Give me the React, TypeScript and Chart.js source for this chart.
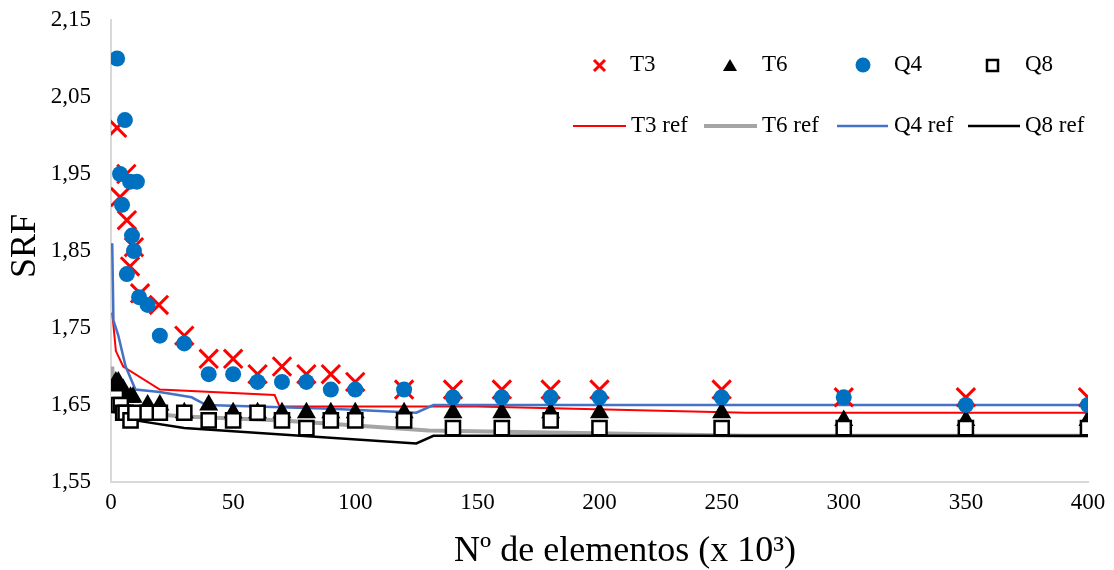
import React, { useEffect, useRef } from 'react';
import { Chart, registerables } from 'chart.js';

Chart.register(...registerables);

// ---- Data (x in thousands of elements, y = SRF) ----
const t3X = [2.5, 3.7, 6.3, 6.5, 7.8, 9.4, 11.9, 19.6, 30, 40, 50, 60, 70, 80, 90, 100, 120, 140, 160, 180, 200, 250, 300, 350, 400];
const t3Y = [2.01, 1.92, 1.95, 1.89, 1.83, 1.855, 1.795, 1.78, 1.74, 1.71, 1.71, 1.69, 1.70, 1.69, 1.69, 1.68, 1.67, 1.67, 1.67, 1.67, 1.67, 1.67, 1.66, 1.66, 1.66];

const t6X = [1, 2, 3, 4, 5, 6, 8, 9, 15, 20, 30, 40, 50, 60, 70, 80, 90, 100, 120, 140, 160, 180, 200, 250, 300, 350, 400];
const t6Y = [1.67, 1.68, 1.68, 1.67, 1.67, 1.66, 1.66, 1.66, 1.65, 1.65, 1.64, 1.65, 1.64, 1.64, 1.64, 1.64, 1.64, 1.64, 1.64, 1.64, 1.64, 1.64, 1.64, 1.64, 1.63, 1.63, 1.63];

const q4X = [2.5, 3.7, 4.5, 5.7, 6.5, 7.8, 8.6, 9.4, 10.6, 11.5, 15, 20, 30, 40, 50, 60, 70, 80, 90, 100, 120, 140, 160, 180, 200, 250, 300, 350, 400];
const q4Y = [2.10, 1.95, 1.91, 2.02, 1.82, 1.94, 1.87, 1.85, 1.94, 1.79, 1.78, 1.74, 1.73, 1.69, 1.69, 1.68, 1.68, 1.68, 1.67, 1.67, 1.67, 1.66, 1.66, 1.66, 1.66, 1.66, 1.66, 1.65, 1.65];

const q8X = [1, 2, 3, 4, 5, 6, 8, 10, 15, 20, 30, 40, 50, 60, 70, 80, 90, 100, 120, 140, 160, 180, 200, 250, 300, 350, 400];
const q8Y = [1.66, 1.66, 1.65, 1.65, 1.64, 1.64, 1.63, 1.64, 1.64, 1.64, 1.64, 1.63, 1.63, 1.64, 1.63, 1.62, 1.63, 1.63, 1.63, 1.62, 1.62, 1.63, 1.62, 1.62, 1.62, 1.62, 1.62];

const t3RefX = [0.5, 2, 5, 20, 67, 69, 150, 260, 400];
const t3RefY = [1.77, 1.72, 1.70, 1.67, 1.663, 1.648, 1.648, 1.64, 1.64];

const t6RefX = [0.5, 1, 3, 10, 30, 70, 130, 260, 400];
const t6RefY = [1.70, 1.67, 1.65, 1.64, 1.635, 1.63, 1.617, 1.61, 1.61];

const q4RefX = [0.5, 1, 3, 6, 10, 20, 33, 39, 90, 125, 132, 400];
const q4RefY = [1.86, 1.76, 1.74, 1.70, 1.67, 1.667, 1.66, 1.65, 1.645, 1.64, 1.65, 1.65];

const q8RefX = [0.5, 2, 5, 10, 30, 125, 132, 400];
const q8RefY = [1.66, 1.64, 1.635, 1.63, 1.62, 1.60, 1.61, 1.61];

const xTickMin = 0;
const xTickMax = 400;
const xTickStep = 50;
const yTickMin = 1.55;
const yTickMax = 2.15;
const yTickStep = 0.1;

const xTitle = 'Nº de elementos (x 10³)';
const yTitle = 'SRF';
const markerLabels = ['T3', 'T6', 'Q4', 'Q8'];
const lineLabels = ['T3 ref', 'T6 ref', 'Q4 ref', 'Q8 ref'];

const FONT = '"Liberation Serif", "Times New Roman", serif';

const pts = (xs: number[], ys: number[]) => xs.map((x, i) => ({ x, y: ys[i] }));

const legendPlugin = {
  id: 'customLegendTitles',
  afterDraw(chart: any) {
    const ctx = chart.ctx as CanvasRenderingContext2D;
    ctx.save();
    // Axis titles
    ctx.fillStyle = '#000';
    ctx.font = `36px ${FONT}`;
    ctx.textAlign = 'center';
    ctx.textBaseline = 'alphabetic';
    ctx.fillText(xTitle, 625, 561);
    ctx.save();
    ctx.translate(35, 246);
    ctx.rotate(-Math.PI / 2);
    ctx.fillText(yTitle, 0, 0);
    ctx.restore();

    // Legend row 1 (markers)
    const y1 = 65;
    const y2 = 126;
    ctx.font = `23px ${FONT}`;
    ctx.textAlign = 'left';
    ctx.textBaseline = 'middle';
    // X
    ctx.strokeStyle = '#FF0000';
    ctx.lineWidth = 3;
    ctx.beginPath();
    ctx.moveTo(594, y1 - 5); ctx.lineTo(605, y1 + 6);
    ctx.moveTo(605, y1 - 5); ctx.lineTo(594, y1 + 6);
    ctx.stroke();
    ctx.fillStyle = '#000';
    ctx.fillText(markerLabels[0], 630, y1);
    // triangle
    ctx.beginPath();
    ctx.moveTo(730, y1 - 6); ctx.lineTo(737, y1 + 6); ctx.lineTo(723, y1 + 6); ctx.closePath();
    ctx.fill();
    ctx.fillText(markerLabels[1], 762, y1);
    // circle
    ctx.fillStyle = '#0070C0';
    ctx.beginPath();
    ctx.arc(863, y1, 7.5, 0, Math.PI * 2);
    ctx.fill();
    ctx.fillStyle = '#000';
    ctx.fillText(markerLabels[2], 894, y1);
    // square
    ctx.strokeStyle = '#000';
    ctx.lineWidth = 2.5;
    ctx.fillStyle = '#fff';
    ctx.fillRect(987, y1 - 5, 11, 11);
    ctx.strokeRect(987, y1 - 5, 11, 11);
    ctx.fillStyle = '#000';
    ctx.fillText(markerLabels[3], 1025, y1);

    // Legend row 2 (lines)
    const lineItems = [
      { x0: 573, x1: 626, color: '#FF0000', w: 2, tx: 631 },
      { x0: 704, x1: 757, color: '#A5A5A5', w: 4, tx: 762 },
      { x0: 837, x1: 888, color: '#4472C4', w: 2.5, tx: 894 },
      { x0: 968, x1: 1020, color: '#000000', w: 2.5, tx: 1025 },
    ];
    lineItems.forEach((it, i) => {
      ctx.strokeStyle = it.color;
      ctx.lineWidth = it.w;
      ctx.beginPath();
      ctx.moveTo(it.x0, y2);
      ctx.lineTo(it.x1, y2);
      ctx.stroke();
      ctx.fillStyle = '#000';
      ctx.fillText(lineLabels[i], it.tx, y2);
    });
    ctx.restore();
  },
};

export default function App() {
  const ref = useRef<HTMLCanvasElement | null>(null);

  useEffect(() => {
    if (!ref.current) return;
    const lineDs = (label: string, xs: number[], ys: number[], color: string, width: number, order: number) => ({
      label,
      data: pts(xs, ys),
      showLine: true,
      borderColor: color,
      backgroundColor: color,
      borderWidth: width,
      pointRadius: 0,
      tension: 0,
      order,
    });
    const chart = new Chart(ref.current, {
      type: 'scatter',
      data: {
        datasets: [
          {
            label: 'Q8', data: pts(q8X, q8Y), pointStyle: 'rect', pointRadius: 10,
            pointBackgroundColor: '#FFFFFF', pointBorderColor: '#000000', pointBorderWidth: 2.5, order: 0,
          },
          {
            label: 'Q4', data: pts(q4X, q4Y), pointStyle: 'circle', pointRadius: 8,
            pointBackgroundColor: '#0070C0', pointBorderColor: '#0070C0', pointBorderWidth: 0, order: 1,
          },
          {
            label: 'T6', data: pts(t6X, t6Y), pointStyle: 'triangle', pointRadius: 11,
            pointBackgroundColor: '#000000', pointBorderColor: '#000000', pointBorderWidth: 0, order: 2,
          },
          {
            label: 'T3', data: pts(t3X, t3Y), pointStyle: 'crossRot', pointRadius: 13,
            pointBackgroundColor: '#FF0000', pointBorderColor: '#FF0000', pointBorderWidth: 3, order: 3,
          },
          lineDs('Q8 ref', q8RefX, q8RefY, '#000000', 2.5, 4),
          lineDs('Q4 ref', q4RefX, q4RefY, '#4472C4', 2.5, 5),
          lineDs('T3 ref', t3RefX, t3RefY, '#FF0000', 2, 6),
          lineDs('T6 ref', t6RefX, t6RefY, '#A5A5A5', 4, 7),
        ] as any,
      },
      options: {
        animation: false,
        responsive: false,
        maintainAspectRatio: false,
        layout: { padding: { top: 20, right: 26, left: 0, bottom: 0 } },
        plugins: { legend: { display: false }, tooltip: { enabled: false } },
        scales: {
          x: {
            type: 'linear',
            min: xTickMin,
            max: xTickMax,
            grid: { display: false, drawTicks: false },
            border: { display: true, color: '#D9D9D9', width: 2 },
            ticks: {
              stepSize: xTickStep,
              color: '#000',
              padding: 7,
              font: { family: FONT, size: 23 },
              maxRotation: 0,
            },
            afterFit: (s: any) => { s.height = 88; s.paddingLeft = 0; s.paddingRight = 0; },
          },
          y: {
            type: 'linear',
            min: yTickMin,
            max: yTickMax,
            grid: { display: false, drawTicks: false },
            border: { display: true, color: '#D9D9D9', width: 2 },
            ticks: {
              stepSize: yTickStep,
              color: '#000',
              padding: 20,
              font: { family: FONT, size: 23 },
              callback: (v: any) => Number(v).toFixed(2).replace('.', ','),
            },
            afterFit: (s: any) => { s.width = 111; s.paddingTop = 0; s.paddingBottom = 0; },
          },
        },
      } as any,
      plugins: [legendPlugin],
    });
    return () => chart.destroy();
  }, []);

  return (
    <div style={{ position: 'fixed', left: 0, top: 0, width: 1114, height: 570, background: '#fff' }}>
      <canvas ref={ref} width={1114} height={570} style={{ display: 'block' }} />
    </div>
  );
}
